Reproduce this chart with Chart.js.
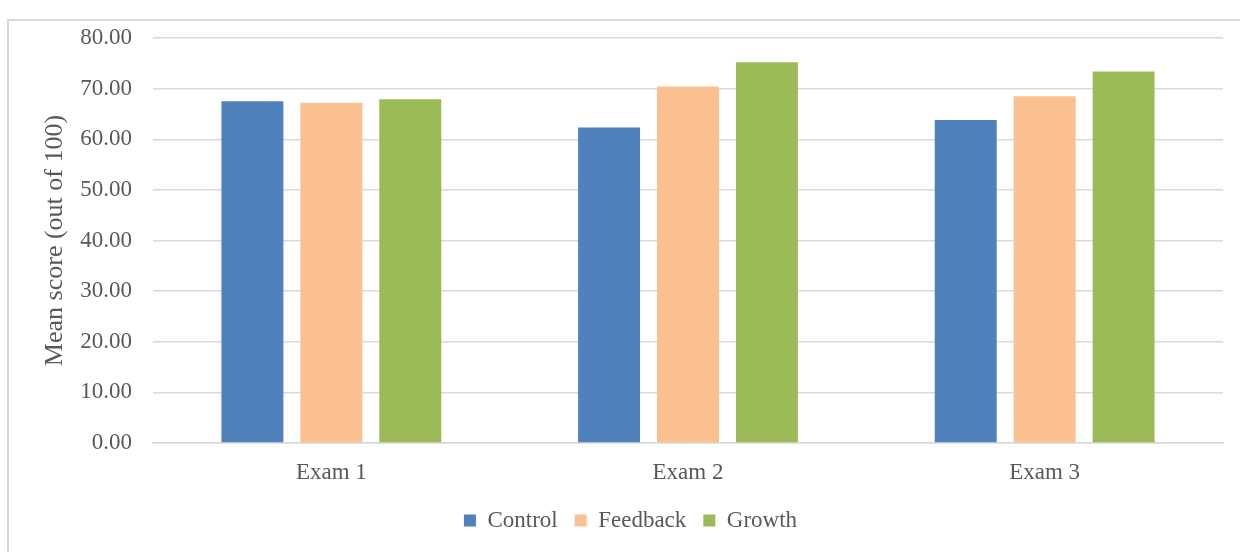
<!DOCTYPE html>
<html>
<head>
<meta charset="utf-8">
<script src="https://cdn.jsdelivr.net/npm/chart.js@4"></script>
<style>
  html, body { margin: 0; padding: 0; background: #fff; }
  body { width: 1240px; height: 552px; position: relative; overflow: hidden; }
  #frame { position: absolute; left: 7px; top: 19px; width: 1260px; height: 560px; border: 2px solid #d9d9d9; box-sizing: border-box; }
  #barChart { position: absolute; left: 0; top: 0; }
</style>
</head>
<body>
<div id="frame"></div>
<canvas id="barChart" width="1240" height="552"></canvas>
<script>
var exams = ["Exam 1", "Exam 2", "Exam 3"];
var control = [67.5, 62.3, 63.8];
var feedback = [67.2, 70.4, 68.5];
var growth = [67.9, 75.2, 73.4];

var serif = "'Liberation Serif', 'Times New Roman', serif";
var textColor = "#595959";

document.addEventListener("DOMContentLoaded", function () {
  const ctx = document.getElementById("barChart");

  var chart = new Chart(ctx, {
    type: "bar",
    data: {
      labels: exams,
      datasets: [
        { label: "Control", data: control, backgroundColor: "#4f81bd" },
        { label: "Feedback", data: feedback, backgroundColor: "#fac090" },
        { label: "Growth", data: growth, backgroundColor: "#9bbb59" },
      ],
    },
    options: {
      responsive: false,
      devicePixelRatio: 1,
      animation: false,
      categoryPercentage: 0.664,
      barPercentage: 0.785,
      layout: {
        padding: { left: 38, right: 17, top: 38, bottom: 10 },
      },
      plugins: {
        tooltip: { enabled: false },
        legend: {
          position: "bottom",
          labels: {
            font: { family: serif, size: 23 },
            color: textColor,
            boxWidth: 12,
            boxHeight: 12,
            padding: 17,
          },
        },
      },
      scales: {
        x: {
          grid: { display: false },
          border: { color: "#d9d9d9", width: 1.5 },
          ticks: {
            font: { family: serif, size: 23 },
            color: textColor,
            padding: 8,
          },
          afterFit: function (scale) {
            scale.height = 49;
          },
        },
        y: {
          min: 0,
          max: 80,
          border: { display: false },
          grid: { color: "#d9d9d9", lineWidth: 1.5, drawTicks: false },
          ticks: {
            stepSize: 10,
            padding: 21,
            font: { family: serif, size: 23 },
            color: textColor,
            callback: function (value) {
              return value.toFixed(2);
            },
          },
          title: {
            display: true,
            text: "Mean score (out of 100)",
            font: { family: serif, size: 26 },
            color: textColor,
            padding: { top: 2, bottom: 2 },
          },
          afterFit: function (scale) {
            scale.width = 115;
          },
        },
      },
    },
  });
});
</script>
</body>
</html>
